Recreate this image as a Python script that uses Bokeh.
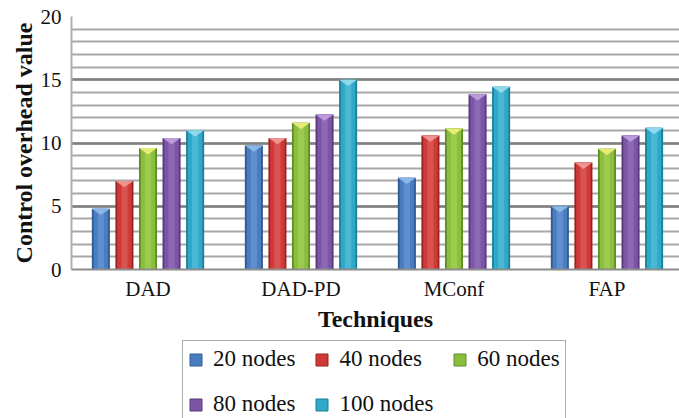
from bokeh.plotting import figure
from bokeh.layouts import column
from bokeh.models import Range1d, FixedTicker, Legend, LegendItem
from bokeh.embed import file_html
from bokeh.resources import INLINE

techniques = ["DAD", "DAD-PD", "MConf", "FAP"]
series_names = ["20 nodes", "40 nodes", "60 nodes", "80 nodes", "100 nodes"]
nodes20 = [4.8, 9.8, 7.25, 5.0]
nodes40 = [7.0, 10.4, 10.6, 8.45]
nodes60 = [9.6, 11.6, 11.15, 9.55]
nodes80 = [10.4, 12.25, 13.85, 10.6]
nodes100 = [11.0, 15.0, 14.45, 11.2]
y_ticks = [0, 5, 10, 15, 20]

series_values = [nodes20, nodes40, nodes60, nodes80, nodes100]
main_colors = ["#4a7cc0", "#cf3a38", "#8bbd3e", "#7d55a6", "#30a8c8"]
dark_colors = ["#2e5a95", "#9a2321", "#5e8d26", "#58397d", "#1c7f9a"]
light_colors = ["#6f9dd8", "#e06460", "#a8d45a", "#9874c0", "#5cc3dd"]
tri_colors = ["#8fbde8", "#f09a96", "#eef07a", "#c0a3e0", "#9adcee"]

FONT = "Liberation Serif"

p = figure(width=679, height=338, output_backend="svg", toolbar_location=None,
           x_range=Range1d(0, 3.974), y_range=Range1d(0, 20),
           min_border_left=71, min_border_right=0, min_border_top=16,
           min_border_bottom=69)
p.outline_line_color = None
p.background_fill_color = "white"

stride = 0.154
bw = 0.118
xc = [i + 0.5 for i in range(len(techniques))]

for k, vals in enumerate(series_values):
    xs = [c + (k - 2) * stride for c in xc]
    p.vbar(x=xs, top=vals, width=bw, bottom=0, fill_color=dark_colors[k], line_color=None)
    p.vbar(x=xs, top=vals, width=bw * 0.8, bottom=0, fill_color=main_colors[k], line_color=None)
    p.vbar(x=xs, top=vals, width=bw * 0.35, bottom=0, fill_color=light_colors[k],
           line_color=None, fill_alpha=0.6)
    tx = [[x - bw / 2, x + bw / 2, x] for x in xs]
    ty = [[v, v, v - 0.5] for v in vals]
    p.patches(tx, ty, fill_color=tri_colors[k], line_color=None, fill_alpha=0.9)

# axes
p.xaxis.ticker = FixedTicker(ticks=xc)
p.xaxis.major_label_overrides = {x: t for x, t in zip(xc, techniques)}
p.xaxis.major_tick_line_color = None
p.xaxis.minor_tick_line_color = None
p.xaxis.axis_line_color = "#8c8c8c"
p.xaxis.axis_line_width = 2
p.xaxis.major_label_text_font = FONT
p.xaxis.major_label_text_font_size = "21px"
p.xaxis.major_label_text_color = "#111111"
p.xaxis.major_label_standoff = 1
p.xaxis.axis_label = "Techniques"
p.xaxis.axis_label_text_font = FONT
p.xaxis.axis_label_text_font_style = "bold"
p.xaxis.axis_label_text_font_size = "24px"
p.xaxis.axis_label_standoff = 2
p.xaxis.axis_label_text_color = "#111111"

p.yaxis.ticker = FixedTicker(ticks=y_ticks, minor_ticks=list(range(0, 21)))
p.yaxis.major_tick_line_color = None
p.yaxis.minor_tick_line_color = None
p.yaxis.axis_line_color = "#b0b0b0"
p.yaxis.axis_line_width = 2
p.yaxis.major_label_text_font = FONT
p.yaxis.major_label_text_font_size = "21px"
p.yaxis.major_label_text_color = "#111111"
p.yaxis.major_label_standoff = 4
p.yaxis.axis_label = "Control overhead value"
p.yaxis.axis_label_text_font = FONT
p.yaxis.axis_label_text_font_style = "bold"
p.yaxis.axis_label_text_font_size = "24px"
p.yaxis.axis_label_standoff = 1
p.yaxis.axis_label_text_color = "#111111"

p.xgrid.grid_line_color = None
p.ygrid.grid_line_color = "#7f7f7f"
p.ygrid.grid_line_width = 2.5
p.ygrid.minor_grid_line_color = "#a8a8a8"
p.ygrid.minor_grid_line_width = 2

# legend holder below the chart
lg = figure(width=679, height=80, output_backend="svg", toolbar_location=None,
            x_range=Range1d(100, 101), y_range=Range1d(100, 101),
            x_axis_location=None, y_axis_location=None,
            min_border_left=0, min_border_right=0, min_border_top=0, min_border_bottom=0)
lg.outline_line_color = None
lg.xgrid.visible = False
lg.ygrid.visible = False

items = []
for k, (vals, name) in enumerate(zip(series_values, series_names)):
    xs = [c + (k - 2) * stride for c in xc]
    r = lg.vbar(x=xs, top=vals, width=bw, bottom=0, fill_color=main_colors[k],
                line_color=dark_colors[k], line_width=1)
    items.append(LegendItem(label=name, renderers=[r]))

legend = Legend(items=items, location=(111, -5), orientation="horizontal", ncols=3,
                label_text_font=FONT, label_text_font_size="23px",
                label_text_color="#111111",
                glyph_width=15, glyph_height=15, label_standoff=10, spacing=19,
                label_height=24, padding=5, margin=0,
                border_line_color="#555555", border_line_width=1.3,
                background_fill_color="white", background_fill_alpha=1.0)
lg.add_layout(legend, "center")

layout = column(p, lg, spacing=0)
open("out.html", "w").write(file_html(layout, INLINE))
